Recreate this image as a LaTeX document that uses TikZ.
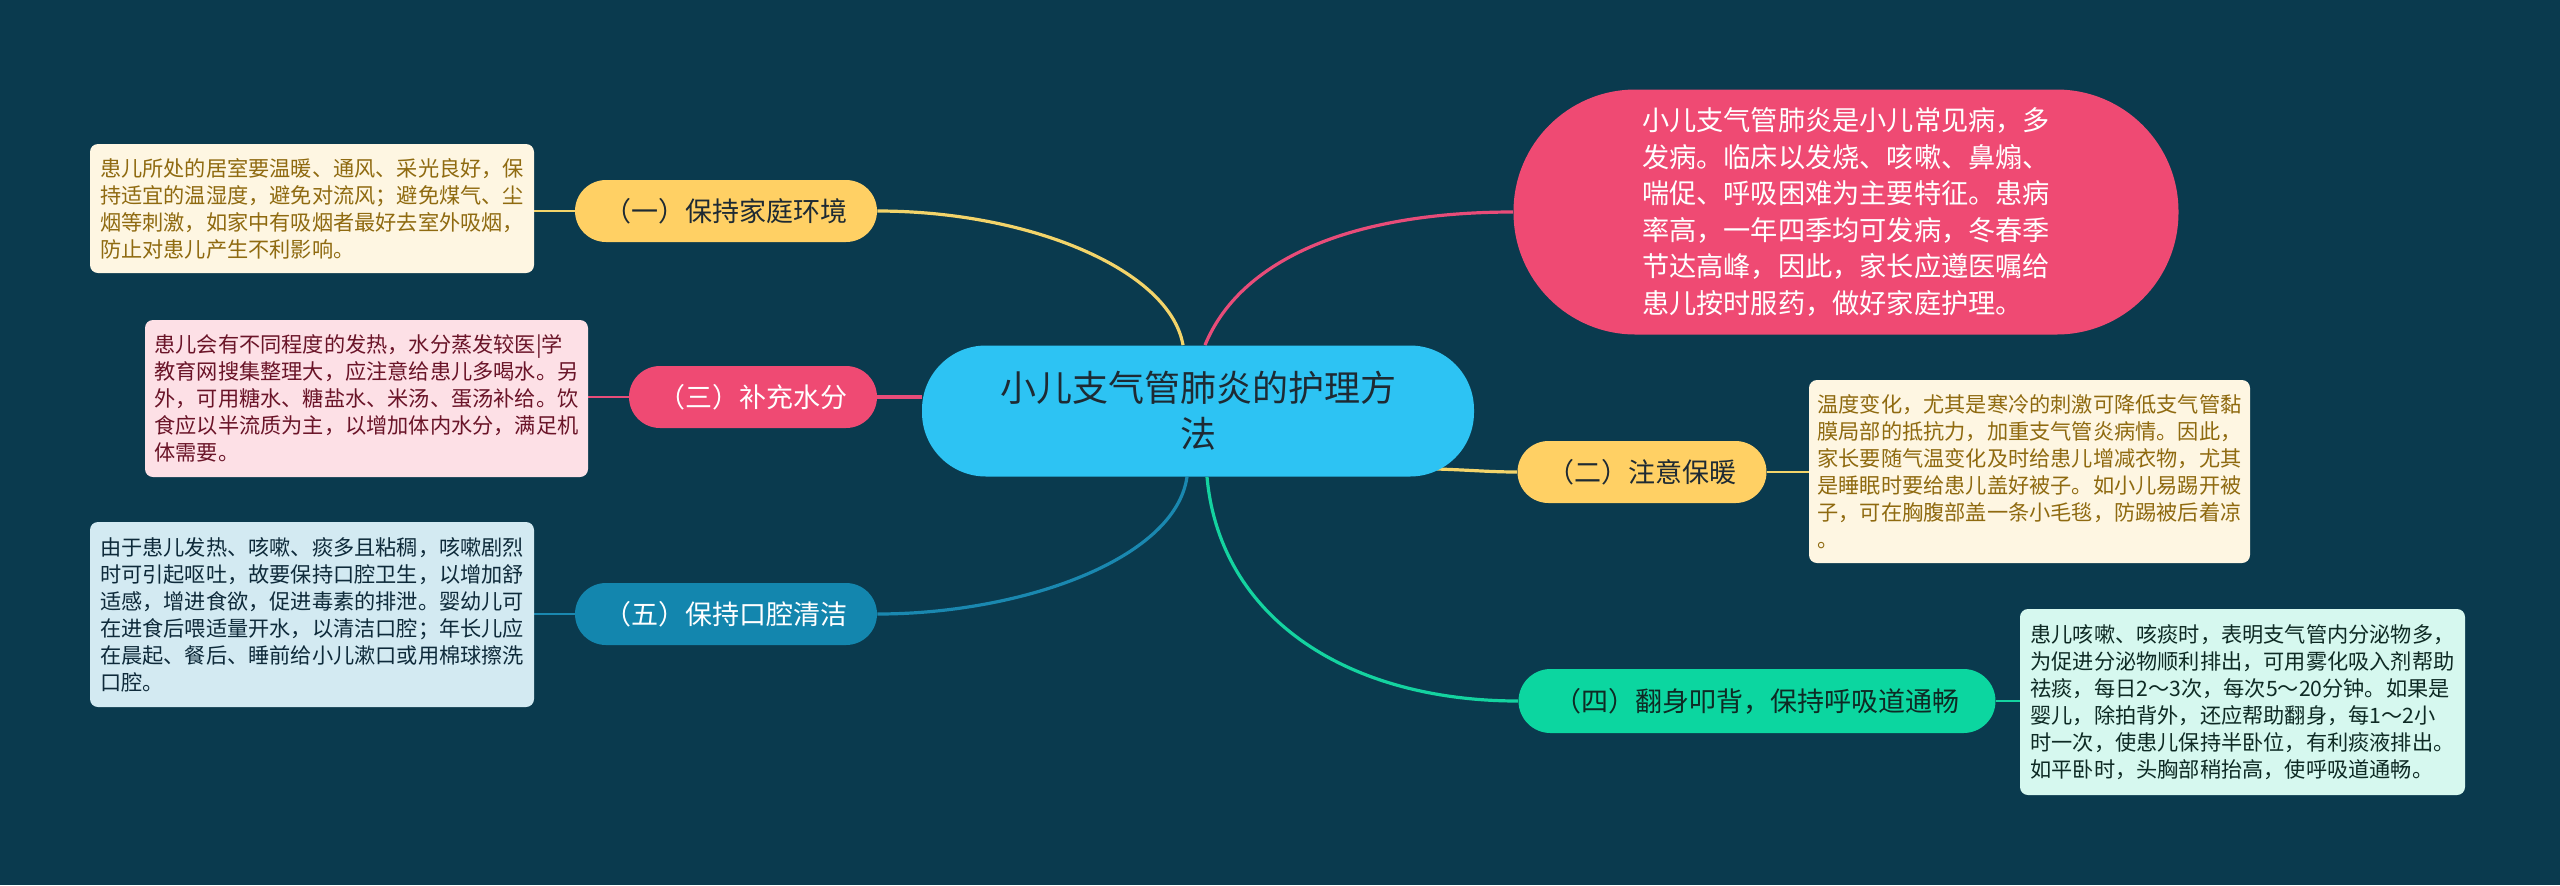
\documentclass[tikz,border=0pt]{standalone}
\usepackage{fontspec}
\setmainfont{Noto Sans CJK SC}
\usetikzlibrary{calc}
\pgfdeclarelayer{bg}
\pgfsetlayers{bg,main}
\definecolor{bgc}{HTML}{0A3A4E}
\definecolor{cyanc}{HTML}{2DC3F3}
\definecolor{pinkc}{HTML}{EF4A73}
\definecolor{yelc}{HTML}{FFD064}
\definecolor{bluec}{HTML}{1386AE}
\definecolor{greenc}{HTML}{0CD6A0}
\definecolor{creamc}{HTML}{FEF6E2}
\definecolor{browntxt}{HTML}{8F6A10}
\definecolor{pinkbox}{HTML}{FDE0E6}
\definecolor{pinktxt}{HTML}{6A1428}
\definecolor{bluebox}{HTML}{D3EAF2}
\definecolor{bluetxt}{HTML}{0E2A3A}
\definecolor{mintbox}{HTML}{D6F8EF}
\definecolor{minttxt}{HTML}{0E2A24}
\definecolor{darktxt}{HTML}{1E2A33}
\definecolor{yline}{HTML}{F3D46A}
\definecolor{pline}{HTML}{E84C79}
\definecolor{bline}{HTML}{1A88B0}
\definecolor{gline}{HTML}{14D3A0}
\tikzset{
  pill/.style={rounded corners=15.5pt, minimum height=31pt, inner sep=0pt, align=center,
    font=\fontsize{13.5pt}{16pt}\selectfont},
  textbox/.style={rounded corners=4pt, inner sep=0pt, align=left,
    font=\fontsize{10.6pt}{13.5pt}\selectfont},
  mainline/.style={line width=1.6pt},
  subline/.style={line width=1.2pt},
}
\begin{document}
\begin{tikzpicture}[x=0.5pt,y=-0.5pt]
% central
\node[fill=cyanc, rounded corners=32pt, minimum width=276pt, minimum height=65.5pt, inner sep=0pt,
  align=center, text=darktxt, font=\fontsize{18pt}{23pt}\selectfont] (c) at (1198,411)
  {小儿支气管肺炎的护理方\\法};
% top pink summary
\node[fill=pinkc, rounded corners=61pt, minimum width=332.5pt, minimum height=122.5pt, inner sep=0pt,
  align=left, text=white, font=\fontsize{13.6pt}{18.3pt}\selectfont] (p) at (1846,212)
  {小儿支气管肺炎是小儿常见病，多\\发病。临床以发烧、咳嗽、鼻煽、\\喘促、呼吸困难为主要特征。患病\\率高，一年四季均可发病，冬春季\\节达高峰，因此，家长应遵医嘱给\\患儿按时服药，做好家庭护理。};
% child nodes
\node[pill, fill=yelc, text=darktxt, minimum width=151pt] (n1) at (726,211) {（一）保持家庭环境};
\node[pill, fill=pinkc, text=white, minimum width=124pt] (n3) at (753,397) {（三）补充水分};
\node[pill, fill=bluec, text=white, minimum width=151pt] (n5) at (726,614) {（五）保持口腔清洁};
\node[pill, fill=yelc, text=darktxt, minimum width=124.5pt] (n2) at (1642,472) {（二）注意保暖};
\node[pill, fill=greenc, text=minttxt, minimum width=238.5pt, minimum height=32pt, rounded corners=16pt] (n4) at (1757,701) {（四）翻身叩背，保持呼吸道通畅};
% text boxes
\node[textbox, fill=creamc, text=browntxt, minimum width=222pt, minimum height=64.5pt] (t1) at (312,208.5)
  {患儿所处的居室要温暖、通风、采光良好，保\\持适宜的温湿度，避免对流风；避免煤气、尘\\烟等刺激，如家中有吸烟者最好去室外吸烟，\\防止对患儿产生不利影响。};
\node[textbox, fill=pinkbox, text=pinktxt, minimum width=221.5pt, minimum height=78.5pt] (t3) at (366.5,398.5)
  {患儿会有不同程度的发热，水分蒸发较医|学\\教育网搜集整理大，应注意给患儿多喝水。另\\外，可用糖水、糖盐水、米汤、蛋汤补给。饮\\食应以半流质为主，以增加体内水分，满足机\\体需要。};
\node[textbox, fill=bluebox, text=bluetxt, minimum width=222pt, minimum height=92.5pt] (t5) at (312,614.5)
  {由于患儿发热、咳嗽、痰多且粘稠，咳嗽剧烈\\时可引起呕吐，故要保持口腔卫生，以增加舒\\适感，增进食欲，促进毒素的排泄。婴幼儿可\\在进食后喂适量开水，以清洁口腔；年长儿应\\在晨起、餐后、睡前给小儿漱口或用棉球擦洗\\口腔。};
\node[textbox, fill=creamc, text=browntxt, minimum width=220.5pt, minimum height=91.5pt] (t2) at (2029.5,471.5)
  {温度变化，尤其是寒冷的刺激可降低支气管黏\\膜局部的抵抗力，加重支气管炎病情。因此，\\家长要随气温变化及时给患儿增减衣物，尤其\\是睡眠时要给患儿盖好被子。如小儿易踢开被\\子，可在胸腹部盖一条小毛毯，防踢被后着凉\\。};
\node[textbox, fill=mintbox, text=minttxt, minimum width=222.5pt, minimum height=93pt] (t4) at (2242.5,702)
  {患儿咳嗽、咳痰时，表明支气管内分泌物多，\\为促进分泌物顺利排出，可用雾化吸入剂帮助\\祛痰，每日2～3次，每次5～20分钟。如果是\\婴儿，除拍背外，还应帮助翻身，每1～2小\\时一次，使患儿保持半卧位，有利痰液排出。\\如平卧时，头胸部稍抬高，使呼吸道通畅。};
\begin{pgfonlayer}{bg}
\fill[bgc] (0,0) rectangle (2560,885);
% central to children
\draw[mainline, yline] ([xshift=-7.5pt]c.north) .. controls (1170,270) and (1030,211) .. (n1.east);
\draw[mainline, pline] ([xshift=3.5pt]c.north) .. controls (1240,260) and (1350,212) .. (p.west);
\draw[mainline, pline] (c.west |- n3.east) -- (n3.east);
\draw[mainline, bline] ([xshift=-5.5pt]c.south) .. controls (1175,560) and (1020,614) .. (n5.east);
\draw[mainline, gline] ([xshift=4.5pt]c.south) .. controls (1220,620) and (1350,701) .. (n4.west);
\draw[mainline, yline] ($(c.center)+(239,58)$) .. controls (1470,470) and (1490,472) .. (n2.west);
% children to text boxes
\draw[subline, yline] (n1.west) -- (n1.west -| t1.east);
\draw[subline, pline] (n3.west) -- (n3.west -| t3.east);
\draw[subline, bline] (n5.west) -- (n5.west -| t5.east);
\draw[subline, yline] (n2.east) -- (n2.east -| t2.west);
\draw[subline, gline] (n4.east) -- (n4.east -| t4.west);
\end{pgfonlayer}
\end{tikzpicture}
\end{document}
